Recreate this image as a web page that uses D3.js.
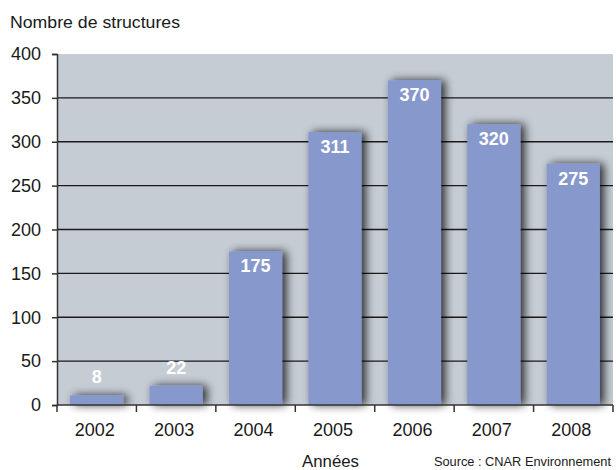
<!DOCTYPE html>
<html>
<head>
<meta charset="utf-8">
<script src="https://cdn.jsdelivr.net/npm/d3@7"></script>
<style>
  body { margin: 0; background: #fff; }
  text { font-family: "Liberation Sans", Arial, sans-serif; }
</style>
</head>
<body>
<svg id="chart" width="616" height="470"></svg>
<script>
var years = ["2002", "2003", "2004", "2005", "2006", "2007", "2008"];
var counts = [8, 22, 175, 311, 370, 320, 275];
var yTicks = [0, 50, 100, 150, 200, 250, 300, 350, 400];

var svg = d3.select("#chart");
var margin = { left: 57, right: 3, top: 54, bottom: 65 };
var width = +svg.attr("width"),
    height = +svg.attr("height");

var x = d3.scaleBand()
    .domain(years)
    .range([margin.left, width - margin.right])
    .paddingInner(0.33)
    .paddingOuter(0.165);

var y = d3.scaleLinear()
    .domain([0, 400])
    .range([height - margin.bottom, margin.top]);

// drop shadow for the bars
var defs = svg.append("defs");
var f = defs.append("filter").attr("id", "shadow")
    .attr("x", "-40%").attr("y", "-40%").attr("width", "180%").attr("height", "180%");
f.append("feGaussianBlur").attr("in", "SourceAlpha").attr("stdDeviation", 5);
f.append("feOffset").attr("dx", 4).attr("dy", 0).attr("result", "blur");
f.append("feComponentTransfer").append("feFuncA").attr("type", "linear").attr("slope", 0.8);
var m = f.append("feMerge");
m.append("feMergeNode");
m.append("feMergeNode").attr("in", "SourceGraphic");

// plot background
svg.append("rect")
    .attr("x", margin.left)
    .attr("y", y(400))
    .attr("width", width - margin.right - margin.left)
    .attr("height", y(0) - y(400))
    .attr("fill", "#c5ccd4");

// grid lines
svg.append("g")
    .selectAll("line")
    .data(yTicks.filter(function(d) { return d > 0 && d < 400; }))
    .enter()
    .append("line")
    .attr("x1", margin.left)
    .attr("x2", width - margin.right)
    .attr("y1", function(d) { return y(d); })
    .attr("y2", function(d) { return y(d); })
    .attr("stroke", "#1a1a1a")
    .attr("stroke-width", 1.3);

// bars
var bars = svg.append("g").attr("filter", "url(#shadow)");
bars.selectAll("rect")
    .data(counts)
    .enter()
    .append("rect")
    .attr("x", function(d, i) { return x(years[i]); })
    .attr("y", function(d) { return y(Math.max(d, 11)); })
    .attr("width", x.bandwidth())
    .attr("height", function(d) { return y(0) - y(Math.max(d, 11)); })
    .attr("fill", "#8698cc");

// value labels
svg.append("g")
    .selectAll("text")
    .data(counts)
    .enter()
    .append("text")
    .attr("x", function(d, i) { return x(years[i]) + x.bandwidth() / 2; })
    .attr("y", function(d) {
        if (d < 50) return y(Math.max(d, 11)) - 12;
        return y(d) + 21;
    })
    .attr("text-anchor", "middle")
    .attr("fill", "#ffffff")
    .attr("font-weight", "bold")
    .attr("font-size", 18)
    .text(function(d) { return d; });

// y axis
var yAxis = svg.append("g")
    .attr("transform", "translate(" + margin.left + ",0)")
    .call(d3.axisLeft(y).tickValues(yTicks).tickSize(5).tickPadding(11));
yAxis.select(".domain").attr("stroke", "#333").attr("stroke-width", 1.5);
yAxis.selectAll(".tick line").attr("stroke", "#333").attr("stroke-width", 1.5);
yAxis.selectAll(".tick text")
    .attr("font-size", 18)
    .attr("fill", "#1a1a1a")
    .style("font-family", "'Liberation Sans', Arial, sans-serif");

// x axis with ticks at category boundaries
var xAxis = svg.append("g")
    .attr("transform", "translate(0," + y(0) + ")");
xAxis.append("line")
    .attr("x1", margin.left).attr("x2", width - margin.right)
    .attr("stroke", "#333").attr("stroke-width", 1.5);
xAxis.selectAll(".sep")
    .data(years.concat(["end"]))
    .enter()
    .append("line")
    .attr("x1", function(d, i) { return margin.left + i * (width - margin.right - margin.left) / years.length; })
    .attr("x2", function(d, i) { return margin.left + i * (width - margin.right - margin.left) / years.length; })
    .attr("y1", 0).attr("y2", 7)
    .attr("stroke", "#333").attr("stroke-width", 1.5);
xAxis.selectAll(".lbl")
    .data(years)
    .enter()
    .append("text")
    .attr("x", function(d) { return x(d) + x.bandwidth() / 2 - 2; })
    .attr("y", 31)
    .attr("text-anchor", "middle")
    .attr("font-size", 18)
    .attr("fill", "#1a1a1a")
    .text(function(d) { return d; });

// titles
svg.append("text")
    .attr("x", 10).attr("y", 28)
    .attr("font-size", 17)
    .attr("textLength", 170)
    .attr("lengthAdjust", "spacingAndGlyphs")
    .attr("fill", "#1a1a1a")
    .text("Nombre de structures");

svg.append("text")
    .attr("x", 302).attr("y", 467)
    .attr("font-size", 17)
    .attr("textLength", 57)
    .attr("lengthAdjust", "spacingAndGlyphs")
    .attr("fill", "#1a1a1a")
    .text("Années");

svg.append("text")
    .attr("x", 611).attr("y", 466)
    .attr("text-anchor", "end")
    .attr("font-size", 12.8)
    .attr("fill", "#1a1a1a")
    .text("Source : CNAR  Environnement");
</script>
</body>
</html>
